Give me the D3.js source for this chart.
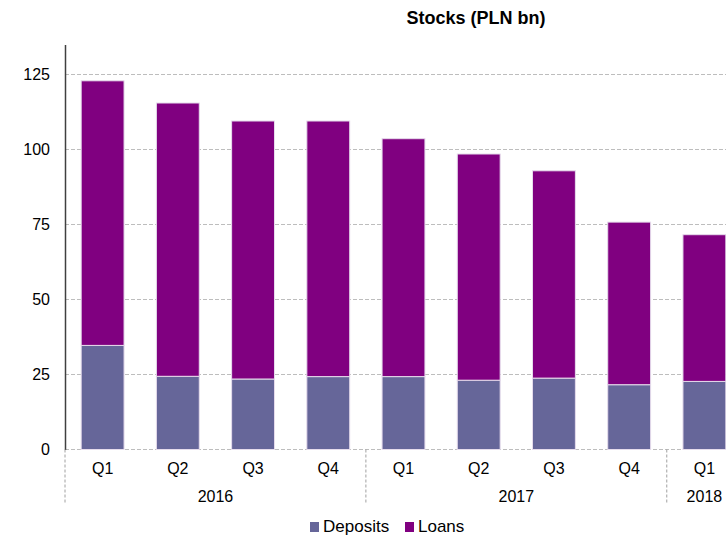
<!DOCTYPE html>
<html><head><meta charset="utf-8">
<script src="https://cdn.jsdelivr.net/npm/d3@7"></script>
<style>body{margin:0;background:#fff}text{font-family:"Liberation Sans",Arial,sans-serif;fill:#000}</style>
</head><body><svg id="c" width="726" height="536"></svg>
<script>
const quarters = ["Q1","Q2","Q3","Q4","Q1","Q2","Q3","Q4","Q1"];
const years = ["2016","2016","2016","2016","2017","2017","2017","2017","2018"];
const deposits = [34.7,24.4,23.5,24.3,24.3,23.1,23.8,21.6,22.7];
const totals = [122.9,115.5,109.5,109.5,103.6,98.5,92.9,75.8,71.6];
const loans = totals.map((t,i)=>+(t-deposits[i]).toFixed(1));
const yTicks = [0,25,50,75,100,125];
const seriesNames = ["Deposits","Loans"];
const colors = ["#666699","#800080"];

const svg = d3.select("#c");
const left = 65, right = 742, y0 = 449.5;
const y = d3.scaleLinear().domain([0,135]).range([y0, 44.5]);
const x = d3.scaleBand().domain(d3.range(quarters.length)).range([left,right]).paddingInner(0.43).paddingOuter(0.215);

// gridlines
svg.append("g").selectAll("line").data(yTicks).join("line")
  .attr("x1",left).attr("x2",726).attr("y1",d=>y(d)).attr("y2",d=>y(d))
  .attr("stroke","#bdbdbd").attr("stroke-width",1).attr("stroke-dasharray","4,2");

const rows = quarters.map((q,i)=>({i, Deposits:deposits[i], Loans:loans[i]}));
const stack = d3.stack().keys(seriesNames)(rows);
svg.append("g").selectAll("g").data(stack).join("g").attr("fill",(d,k)=>colors[k])
  .selectAll("rect").data(d=>d).join("rect")
  .attr("x",d=>x(d.data.i)).attr("width",x.bandwidth())
  .attr("y",d=>y(d[1])).attr("height",d=>y(d[0])-y(d[1]))
  .attr("stroke","#e6dcec").attr("stroke-width",1);

// y axis
const ya = svg.append("g").attr("transform",`translate(${left},0)`)
  .call(d3.axisLeft(y).tickValues(yTicks).tickSize(0).tickPadding(15));
ya.select(".domain").attr("stroke","#404040").attr("stroke-width",1.5);
ya.selectAll("text").attr("font-size",16).attr("font-family","Liberation Sans, Arial, sans-serif").attr("fill","#000");

// quarter labels
svg.append("g").selectAll("text").data(quarters).join("text")
  .attr("x",(d,i)=>x(i)+x.bandwidth()/2).attr("y",474).attr("text-anchor","middle")
  .attr("font-size",16).text(d=>d);

// year groups
const groups = d3.groups(years.map((yr,i)=>({yr,i})), d=>d.yr);
const step = x.step();
const sepX = [left];
groups.forEach(([yr,items])=>{
  const first = items[0].i, last = items[items.length-1].i;
  const gx0 = left + step*first;
  if (first>0) sepX.push(gx0);
  svg.append("text").attr("x",(x(first)+x(last)+x.bandwidth())/2).attr("y",502)
    .attr("text-anchor","middle").attr("font-size",16).text(yr);
});
svg.append("g").selectAll("line").data(sepX).join("line")
  .attr("x1",d=>d).attr("x2",d=>d).attr("y1",y0).attr("y2",504)
  .attr("stroke","#a0a0a0").attr("stroke-width",1).attr("stroke-dasharray","3,2");

// title
svg.append("text").attr("x",476).attr("y",24).attr("text-anchor","middle")
  .attr("font-size",18).attr("font-weight","bold").text("Stocks (PLN bn)");

// legend
const lg = svg.append("g");
const lx = [310, 405];
seriesNames.forEach((n,k)=>{
  lg.append("rect").attr("x",lx[k]).attr("y",522).attr("width",9).attr("height",10).attr("fill",colors[k]);
  lg.append("text").attr("x",lx[k]+13).attr("y",532).attr("font-size",17).text(n);
});
</script></body></html>
